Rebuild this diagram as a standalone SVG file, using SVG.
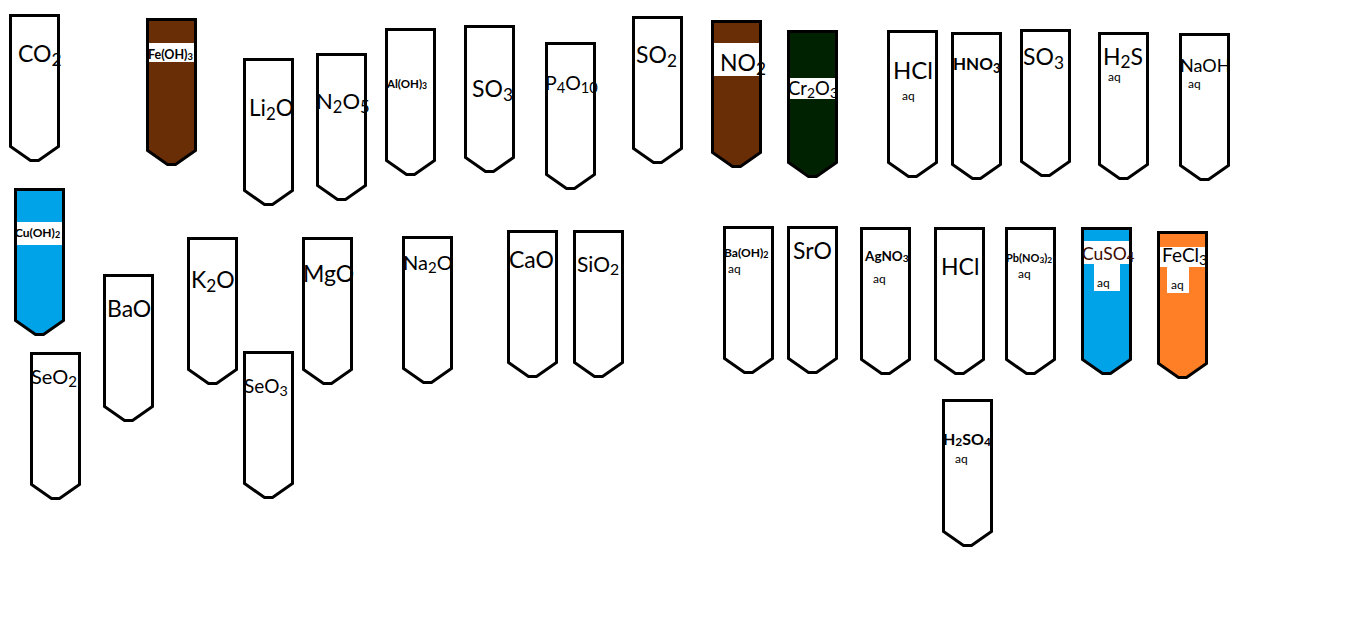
<svg xmlns="http://www.w3.org/2000/svg" xmlns:xlink="http://www.w3.org/1999/xlink" width="1360" height="623" viewBox="0 0 1360 623">
<style>
.t{stroke:#000;stroke-width:3;stroke-linejoin:miter}
.w{fill:#fff}
.br{fill:#6a2e06}
.gr{fill:#012201}
.bl{fill:#00a2e8}
.or{fill:#ff7f27}
.band{fill:#fff}
text{font-family:Lato,"Liberation Sans",sans-serif;fill:#000}
.b{font-weight:bold}
.aq{font-size:12px}
</style>
<defs>
<path id="tube" d="M0,0 H48 V131 L28,145 H20 L0,131 Z"/>
</defs>
<rect width="1360" height="623" fill="#fff"/>

<g id="co2"><use href="#tube" x="10.5" y="15.5" class="t w"/><text x="18" y="62" font-size="23">CO<tspan font-size="0.75em" dy="4">2</tspan></text></g>
<g id="feoh3"><use href="#tube" x="147.5" y="19.5" class="t br"/><rect class="band" x="149" y="43" width="45" height="19"/><text class="b" x="148" y="59" font-size="12.5">Fe(OH)<tspan font-size="0.75em" dy="1">3</tspan></text></g>
<g id="li2o"><use href="#tube" x="244.5" y="59.5" class="t w"/><text x="249" y="116" font-size="22.5">Li<tspan font-size="0.75em" dy="4">2</tspan><tspan dy="-4">O</tspan></text></g>
<g id="n2o5"><use href="#tube" x="317.5" y="54.5" class="t w"/><text x="316" y="109" font-size="22">N<tspan font-size="0.75em" dy="4">2</tspan><tspan dy="-4">O</tspan><tspan font-size="0.75em" dy="4">5</tspan></text></g>
<g id="aloh3"><use href="#tube" x="386.5" y="29.5" class="t w"/><text class="b" x="387" y="88" font-size="11.5">Al(OH)<tspan font-size="0.75em" dy="1">3</tspan></text></g>
<g id="so3a"><use href="#tube" x="465.5" y="26.5" class="t w"/><text x="472" y="97" font-size="23">SO<tspan font-size="0.75em" dy="4">3</tspan></text></g>
<g id="p4o10"><use href="#tube" x="546.5" y="43.5" class="t w"/><text x="545" y="90" font-size="19.5">P<tspan font-size="0.75em" dy="3">4</tspan><tspan dy="-3">O</tspan><tspan font-size="0.75em" dy="3">10</tspan></text></g>
<g id="so2"><use href="#tube" x="633.5" y="17.5" class="t w"/><text x="636" y="63" font-size="23">SO<tspan font-size="0.75em" dy="4">2</tspan></text></g>
<g id="no2"><use href="#tube" x="712.5" y="21.5" class="t br"/><rect class="band" x="714" y="43" width="45" height="33"/><text x="720" y="71" font-size="23">NO<tspan font-size="0.75em" dy="4">2</tspan></text></g>
<g id="cr2o3"><use href="#tube" x="788.5" y="31.5" class="t gr"/><rect class="band" x="790" y="78" width="45" height="21"/><text x="788" y="95" font-size="18.5">Cr<tspan font-size="0.75em" dy="3">2</tspan><tspan dy="-3">O</tspan><tspan font-size="0.75em" dy="3">3</tspan></text></g>
<g id="hcl1"><use href="#tube" x="888.5" y="31.5" class="t w"/><text x="893" y="79" font-size="24">HCl</text><text class="aq" x="902" y="100">aq</text></g>
<g id="hno3"><use href="#tube" x="952.5" y="33.5" class="t w"/><text class="b" x="953" y="70" font-size="17">HNO<tspan font-size="0.75em" dy="3">3</tspan></text></g>
<g id="so3b"><use href="#tube" x="1021.5" y="30.5" class="t w"/><text x="1023" y="65" font-size="23">SO<tspan font-size="0.75em" dy="4">3</tspan></text></g>
<g id="h2s"><use href="#tube" x="1099.5" y="33.5" class="t w"/><text x="1103" y="65" font-size="23">H<tspan font-size="0.75em" dy="3">2</tspan><tspan dy="-3">S</tspan></text><text class="aq" x="1108" y="81">aq</text></g>
<g id="naoh"><use href="#tube" x="1180.5" y="34.5" class="t w"/><text x="1180" y="72" font-size="18">NaOH</text><text class="aq" x="1188" y="88">aq</text></g>

<g id="cuoh2"><use href="#tube" x="15.5" y="189.5" class="t bl"/><rect class="band" x="17" y="222" width="45" height="23"/><text class="b" x="15" y="237" font-size="12">Cu(OH)<tspan font-size="0.75em" dy="1">2</tspan></text></g>
<g id="bao"><use href="#tube" x="104.5" y="275.5" class="t w"/><text x="107" y="317" font-size="23">BaO</text></g>
<g id="k2o"><use href="#tube" x="188.5" y="238.5" class="t w"/><text x="191" y="288" font-size="23">K<tspan font-size="0.75em" dy="4">2</tspan><tspan dy="-4">O</tspan></text></g>
<g id="seo2"><use href="#tube" x="31.5" y="353.5" class="t w"/><text x="31" y="384" font-size="20">SeO<tspan font-size="0.75em" dy="3">2</tspan></text></g>
<g id="seo3"><use href="#tube" x="244.5" y="352.5" class="t w"/><text x="244" y="393" font-size="19">SeO<tspan font-size="0.75em" dy="3">3</tspan></text></g>
<g id="mgo"><use href="#tube" x="303.5" y="238.5" class="t w"/><text x="303" y="282" font-size="23">MgO</text></g>
<g id="na2o"><use href="#tube" x="403.5" y="237.5" class="t w"/><text x="403" y="270" font-size="20">Na<tspan font-size="0.75em" dy="3">2</tspan><tspan dy="-3">O</tspan></text></g>
<g id="cao"><use href="#tube" x="508.5" y="231.5" class="t w"/><text x="509" y="268" font-size="23">CaO</text></g>
<g id="sio2"><use href="#tube" x="574.5" y="231.5" class="t w"/><text x="577" y="272" font-size="21">SiO<tspan font-size="0.75em" dy="3">2</tspan></text></g>
<g id="baoh2"><use href="#tube" x="724.5" y="227.5" class="t w"/><text class="b" x="724" y="257" font-size="12">Ba(OH)<tspan font-size="0.75em" dy="1">2</tspan></text><text class="aq" x="728" y="273">aq</text></g>
<g id="sro"><use href="#tube" x="788.5" y="227.5" class="t w"/><text x="793" y="259" font-size="23">SrO</text></g>
<g id="agno3"><use href="#tube" x="861.5" y="228.5" class="t w"/><text class="b" x="865" y="261" font-size="13.5">AgNO<tspan font-size="0.75em" dy="1">3</tspan></text><text class="aq" x="873" y="283">aq</text></g>
<g id="hcl2"><use href="#tube" x="935.5" y="228.5" class="t w"/><text x="941" y="275" font-size="23">HCl</text></g>
<g id="pbno32"><use href="#tube" x="1006.5" y="228.5" class="t w"/><text class="b" x="1006" y="262" font-size="11">Pb(NO<tspan font-size="0.75em" dy="1">3</tspan><tspan dy="-1">)</tspan><tspan font-size="0.75em" dy="1">2</tspan></text><text class="aq" x="1018" y="278">aq</text></g>
<g id="cuso4"><use href="#tube" x="1082.5" y="228.5" class="t bl"/><rect class="band" x="1084" y="241" width="45" height="23"/><rect class="band" x="1094" y="263" width="26" height="28"/><text x="1082" y="260" font-size="17.5" style="fill:#3a0a00">CuSO<tspan font-size="0.75em" dy="2">4</tspan></text><text class="aq" x="1097" y="287">aq</text></g>
<g id="fecl3"><use href="#tube" x="1158.5" y="232.5" class="t or"/><rect class="band" x="1160" y="247" width="45" height="20"/><rect class="band" x="1167" y="266" width="22" height="27"/><text x="1162" y="262" font-size="19">FeCl<tspan font-size="0.75em" dy="3">3</tspan></text><text class="aq" x="1171" y="289">aq</text></g>
<g id="h2so4"><use href="#tube" x="943.5" y="400.5" class="t w"/><text class="b" x="943" y="445" font-size="16">H<tspan font-size="0.75em" dy="1">2</tspan><tspan dy="-1">SO</tspan><tspan font-size="0.75em" dy="1">4</tspan></text><text class="aq" x="955" y="463">aq</text></g>

<g id="connectors"/>
</svg>
